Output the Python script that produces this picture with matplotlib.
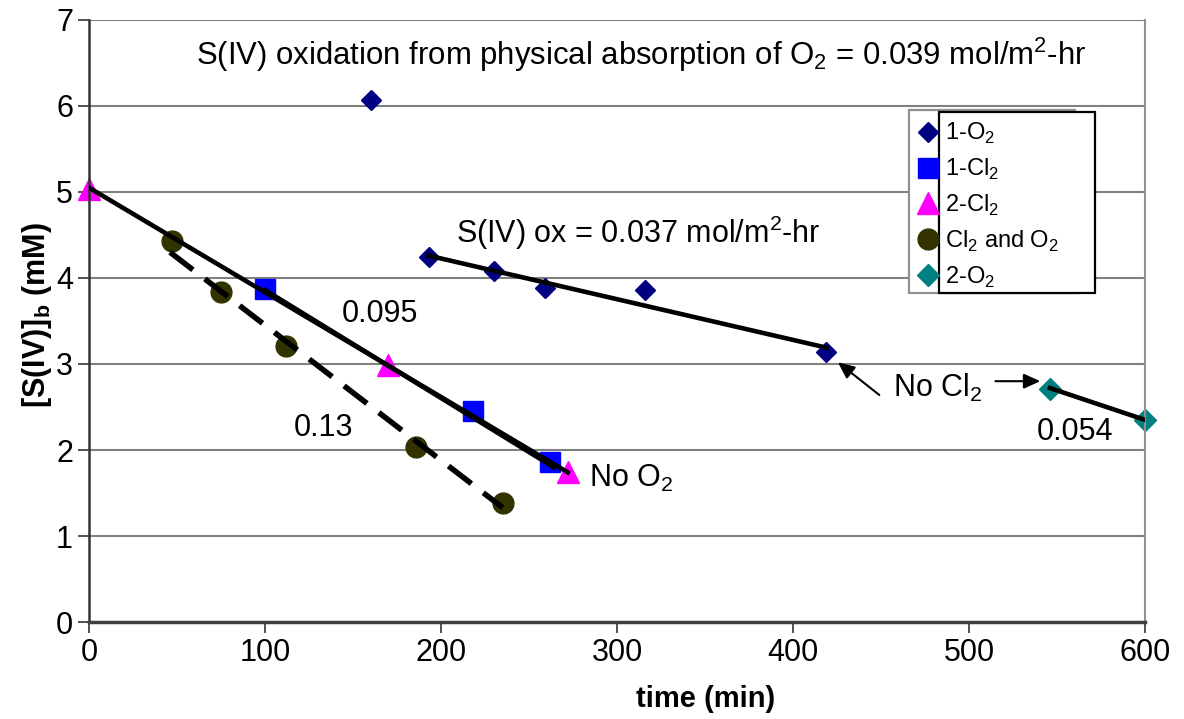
import matplotlib.pyplot as plt
from matplotlib.patches import Rectangle

plt.rcParams["font.family"] = ["Liberation Sans", "DejaVu Sans"]
plt.rcParams["mathtext.fontset"] = "custom"
plt.rcParams["mathtext.rm"] = "Liberation Sans"
plt.rcParams["mathtext.bf"] = "Liberation Sans:bold"

# measured points (time in min, [S(IV)]b in mM)
o2_1_t = [160, 193, 230, 259, 316, 419]
o2_1_c = [6.07, 4.24, 4.08, 3.88, 3.86, 3.14]

cl2_1_t = [100, 218, 262]
cl2_1_c = [3.87, 2.45, 1.86]

cl2_2_t = [0, 170, 272]
cl2_2_c = [5.03, 2.99, 1.74]

both_t = [47, 75, 112, 186, 235]
both_c = [4.43, 3.84, 3.21, 2.03, 1.38]

o2_2_t = [546, 600]
o2_2_c = [2.71, 2.35]

# fitted lines (end points)
fit_cl2_2_t = [0, 272]
fit_cl2_2_c = [5.05, 1.74]
fit_cl2_1_t = [100, 264]
fit_cl2_1_c = [3.86, 1.80]
fit_both_t = [46, 235]
fit_both_c = [4.30, 1.33]
fit_o2_1_t = [193, 419]
fit_o2_1_c = [4.26, 3.19]
fit_o2_2_t = [546, 600]
fit_o2_2_c = [2.72, 2.35]

W, H = 1184, 719


def fig_rect(fig, x0, y0, x1, y1, color, z):
    """White box with an outline, given in figure pixels (y from top)."""
    return Rectangle((x0 / W, 1 - y1 / H), (x1 - x0) / W, (y1 - y0) / H,
                     transform=fig.transFigure, facecolor="white",
                     edgecolor=color, lw=1.6, zorder=z, clip_on=False)


def main():
    fig = plt.figure(figsize=(W / 100, H / 100), dpi=100)
    ax = fig.add_axes([0.0752, 0.1349, 0.8919, 0.8373])

    # fit lines
    ax.plot(fit_cl2_2_t, fit_cl2_2_c, color="black", lw=3.3, zorder=3)
    ax.plot(fit_cl2_1_t, fit_cl2_1_c, color="black", lw=3.3, zorder=3)
    ax.plot(fit_both_t, fit_both_c, color="black", lw=4,
            dashes=(5.2, 2.7), zorder=3)
    ax.plot(fit_o2_1_t, fit_o2_1_c, color="black", lw=3.3, zorder=3)
    ax.plot(fit_o2_2_t, fit_o2_2_c, color="black", lw=3.3, zorder=3)

    # data
    ax.plot(o2_1_t, o2_1_c, "D", color="#000080", ms=10.5, ls="none",
            label="1-O$_2$", zorder=2)
    ax.plot(cl2_1_t, cl2_1_c, "s", color="#0000FF", ms=15, ls="none",
            label="1-Cl$_2$", zorder=2)
    ax.plot(cl2_2_t, cl2_2_c, "^", color="#FF00FF", ms=16, ls="none",
            label="2-Cl$_2$", zorder=2, clip_on=False)
    ax.plot(both_t, both_c, "o", color="#333300", ms=15, ls="none",
            label="Cl$_2$ and O$_2$", zorder=2)
    ax.plot(o2_2_t, o2_2_c, "D", color="#008080", ms=11.5, ls="none",
            label="2-O$_2$", zorder=2, clip_on=False)

    ax.set_xlim(0, 600)
    ax.set_ylim(0, 7)
    ax.set_xticks(range(0, 601, 100))
    ax.set_yticks(range(0, 8))
    ax.tick_params(labelsize=22, length=8, width=1.2, direction="out",
                   color="#333333")
    ax.yaxis.grid(True, color="#808080", lw=1.5)
    ax.set_axisbelow(True)
    ax.spines["top"].set_visible(False)
    ax.spines["right"].set_color("#909090")
    ax.spines["right"].set_linewidth(1.5)
    ax.spines["left"].set_color("#333333")
    ax.spines["left"].set_linewidth(1.8)
    ax.spines["bottom"].set_color("#404040")
    ax.spines["bottom"].set_linewidth(2.5)

    ax.set_xlabel("time (min)", fontsize=21, fontweight="bold")
    ax.xaxis.set_label_coords(0.584, -0.105)
    ax.set_ylabel("[S(IV)]$_\\mathbf{b}$ (mM)", fontsize=22,
                  fontweight="bold")
    ax.yaxis.set_label_coords(-0.033, 0.51)

    # text annotations
    ax.text(314, 6.59,
            "S(IV) oxidation from physical absorption of O$_2$ = 0.039 mol/m$^2$-hr",
            fontsize=22.4, ha="center", va="center")
    ax.text(312, 4.52, "S(IV) ox = 0.037 mol/m$^2$-hr", fontsize=22,
            ha="center", va="center")
    ax.text(165, 3.58, "0.095", fontsize=22, ha="center", va="center")
    ax.text(133, 2.26, "0.13", fontsize=22, ha="center", va="center")
    ax.text(284, 1.67, "No O$_2$", fontsize=22, ha="left", va="center")
    ax.text(560, 2.21, "0.054", fontsize=22, ha="center", va="center")
    ax.text(457, 2.72, "No Cl$_2$", fontsize=22, ha="left", va="center")

    arrow = dict(arrowstyle="-|>,head_length=1.0,head_width=0.45",
                 color="black", lw=1.5, shrinkA=0, shrinkB=0)
    ax.annotate("", xy=(425.5, 3.02), xytext=(449, 2.64), arrowprops=arrow)
    ax.annotate("", xy=(540.5, 2.80), xytext=(515, 2.80), arrowprops=arrow)

    # legend: the two offset boxes of the original, entries on top
    ax.add_patch(fig_rect(fig, 909, 110, 1075, 293, "#909090", 5))
    ax.add_patch(fig_rect(fig, 939, 112, 1095, 293, "black", 6))
    leg = ax.legend(loc="upper left", bbox_to_anchor=(917 / W, 1 - 121 / H),
                    bbox_transform=fig.transFigure, fontsize=17,
                    frameon=False, handlelength=0.95, handletextpad=0.25,
                    labelspacing=0.45, borderpad=0, borderaxespad=0)
    leg.set_zorder(20)

    fig.savefig("out.png", dpi=100)
    plt.close(fig)


if __name__ == "__main__":
    main()
